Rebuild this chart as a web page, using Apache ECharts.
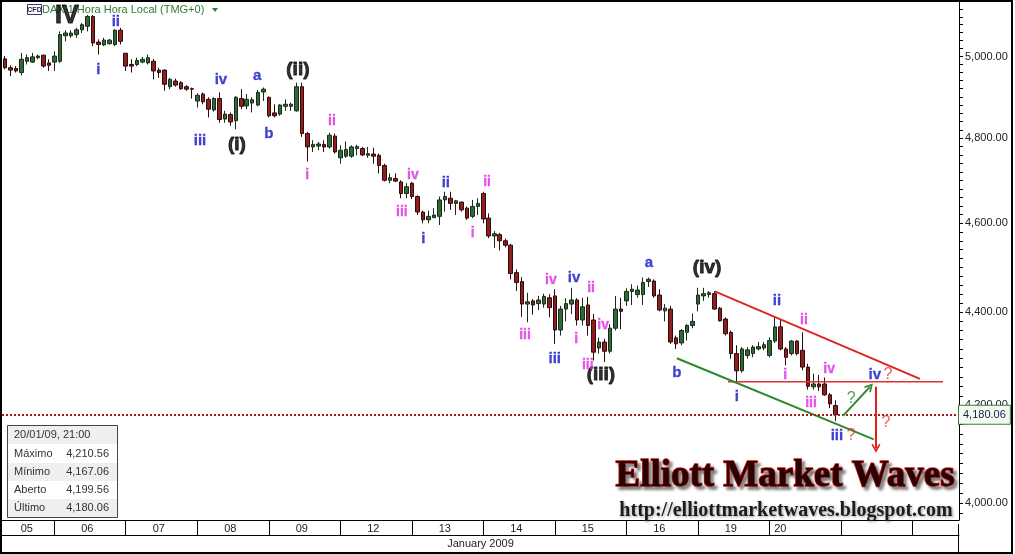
<!DOCTYPE html>
<html>
<head>
<meta charset="utf-8">
<title>DAX 1 Hora</title>
<script src="https://cdn.jsdelivr.net/npm/echarts@6/dist/echarts.min.js"></script>
<style>
html,body{margin:0;padding:0;background:#fff;}
#chart{width:1015px;height:554px;}
</style>
</head>
<body>
<div id="chart"></div>
<script>
// barras horárias 09:00-21:00, o dia 05 aparece só a partir das 13:00
const dayNames = ['05','06','07','08','09','12','13','14','15','16','19','20','21','22'];
const hours = ['09','10','11','12','13','14','15','16','17','18','19','20','21'];

const candleOpen = [
  4994,4972,4970,4960,4988,4986,4997,5003,4984,4986,
  4988,5052,5052,5055,5067,5076,5101,5036,5029,5032,
  5030,5066,5008,4980,4980,4986,4984,4988,4966,4966,
  4925,4939,4935,4925,4920,4890,4907,4894,4868,4896,
  4846,4857,4842,4896,4878,4885,4880,4912,4899,4861,
  4858,4877,4877,4866,4925,4811,4779,4781,4785,4779,
  4805,4753,4757,4757,4775,4775,4759,4762,4759,4735,
  4700,4704,4696,4669,4693,4662,4626,4608,4613,4616,
  4654,4658,4646,4649,4635,4616,4639,4669,4612,4571,
  4574,4560,4550,4488,4468,4418,4425,4419,4418,4432,
  4436,4361,4407,4418,4427,4383,4416,4383,4322,4335,
  4315,4365,4407,4425,4446,4439,4439,4468,4469,4438,
  4403,4407,4344,4333,4356,4371,4418,4436,4439,4441,
  4409,4385,4356,4310,4273,4306,4310,4320,4322,4306,
  4337,4368,4320,4310,4337,4317,4281,4239,4245,4245,
  4222,4199.56
];
const candleHigh = [
  5001,4978,4976,5009,5005,5009,5005,5005,4993,5013,
  5063,5066,5066,5072,5084,5105,5105,5043,5047,5044,
  5069,5072,5009,4993,4997,4999,5005,4994,4972,4968,
  4947,4945,4939,4929,4923,4909,4911,4899,4899,4911,
  4866,4862,4902,4919,4907,4899,4917,4923,4901,4882,
  4882,4894,4886,4935,4935,4815,4795,4791,4795,4813,
  4811,4783,4792,4783,4784,4779,4779,4777,4763,4739,
  4716,4716,4700,4693,4696,4665,4629,4629,4635,4662,
  4673,4673,4654,4650,4639,4654,4658,4673,4623,4582,
  4578,4565,4553,4495,4478,4443,4429,4436,4441,4440,
  4451,4414,4431,4454,4431,4432,4434,4396,4345,4342,
  4374,4436,4432,4453,4462,4459,4477,4477,4473,4451,
  4418,4414,4349,4363,4374,4397,4454,4454,4447,4447,
  4412,4389,4360,4328,4324,4324,4328,4335,4335,4345,
  4389,4385,4324,4339,4339,4356,4288,4267,4264,4259,
  4226,4210.56
];
const candleLow = [
  4968,4951,4960,4953,4980,4984,4993,4972,4964,4964,
  4984,5038,5047,5047,5059,5063,5026,5005,5026,5030,
  5026,5030,4964,4960,4976,4983,4980,4943,4947,4915,
  4919,4925,4917,4915,4896,4874,4882,4850,4864,4837,
  4837,4830,4821,4870,4870,4862,4877,4890,4850,4850,
  4854,4866,4866,4864,4803,4744,4767,4771,4767,4775,
  4763,4739,4753,4753,4759,4757,4753,4739,4716,4697,
  4693,4696,4658,4658,4656,4619,4600,4600,4612,4596,
  4627,4631,4619,4627,4608,4612,4619,4600,4566,4544,
  4538,4545,4473,4447,4390,4378,4395,4405,4410,4389,
  4331,4349,4380,4396,4371,4371,4349,4295,4310,4292,
  4310,4360,4363,4414,4416,4432,4416,4456,4432,4402,
  4380,4331,4320,4328,4338,4365,4402,4425,4432,4405,
  4380,4349,4299,4250,4269,4299,4302,4317,4317,4302,
  4333,4317,4285,4306,4306,4274,4233,4233,4230,4220,
  4194,4167.06
];
const candleClose = [
  4972,4966,4964,4993,4997,4999,5001,4976,4978,5001,
  5055,5059,5059,5067,5080,5101,5034,5030,5041,5041,
  5066,5038,4976,4976,4990,4993,4997,4964,4960,4931,
  4943,4929,4920,4919,4919,4904,4888,4870,4896,4845,
  4858,4839,4899,4877,4894,4893,4911,4919,4854,4854,
  4880,4882,4882,4925,4811,4779,4785,4786,4779,4807,
  4767,4771,4773,4779,4780,4760,4763,4757,4735,4700,
  4706,4698,4669,4685,4662,4626,4608,4616,4619,4654,
  4662,4646,4652,4631,4612,4639,4646,4610,4571,4576,
  4560,4550,4486,4466,4418,4423,4416,4427,4435,4410,
  4361,4407,4419,4427,4383,4412,4371,4313,4335,4315,
  4365,4407,4402,4446,4451,4449,4466,4473,4436,4405,
  4409,4335,4331,4360,4371,4380,4438,4441,4443,4407,
  4381,4353,4310,4273,4320,4318,4324,4325,4329,4338,
  4368,4320,4302,4337,4310,4281,4240,4245,4239,4222,
  4203,4180.06
];

// eixo de preços
const priceLabels = [4000,4200,4400,4600,4800,5000];
const priceTicks = [];
for (let v = 3980; v <= 5120; v += 20) priceTicks.push(v);

// contagem de ondas: [texto, posição (barra), preço]
const blackWaves = [['IV',11.3,5103],['(i)',42.2,4784],['(ii)',53.3,4968],['(iii)',108.4,4264],['(iv)',127.7,4499]];
const blueWaves = [
  ['i',17.0,4966],['ii',20.2,5088],['iii',35.5,4794],['iv',39.3,4941],['a',45.9,4951],['b',48.0,4811],
  ['i',76.1,4564],['ii',80.2,4695],['iii',100.0,4298],['iv',103.5,4477],['a',117.1,4510],['b',122.2,4268],
  ['i',133.1,4218],['ii',140.4,4424],['iii',151.3,4137],['iv',158.2,4264]
];
const pinkWaves = [
  ['i',55.0,4711],['ii',59.5,4841],['iii',72.2,4626],['iv',74.2,4711],['i',85.1,4578],['ii',87.7,4695],
  ['iii',94.6,4350],['iv',99.3,4472],['i',103.9,4341],['ii',106.6,4454],['iii',106.0,4285],['iv',108.8,4371],
  ['i',141.9,4264],['ii',145.3,4382],['iii',146.6,4205],['iv',149.9,4277]
];
const redMarks = [['?',160.6,4264],['?',153.9,4137],['?',160.2,4164]];
const greenMarks = [['?',153.9,4214]];

// linhas de tendência e setas
const upperLine = [[129.1,4446],[166.4,4256]];
const lowerLine = [[122.2,4300],[158.0,4129]];
const levelLine = [[131.5,4249.5],[170.6,4249.5]];
const upArrow = [[152.4,4178],[157.3,4239]];
const downArrow = [[158.4,4239],[158.4,4111]];

const lastIdx = candleClose.length - 1;
const infoTitle = '20/01/09, 21:00';
const infoRows = [
  ['Máximo', candleHigh[lastIdx]],
  ['Mínimo', candleLow[lastIdx]],
  ['Aberto', candleOpen[lastIdx]],
  ['Último', candleClose[lastIdx]]
];

function fmt(v) {
  return Number(v).toFixed(2).replace(/\B(?=(\d{3})+(?!\d))/g, ',');
}

// categorias (uma por barra horária)
const slots = [];
dayNames.forEach((d, k) => {
  hours.forEach((h, j) => {
    if (k === 0 && j < 4) return;
    slots.push(d + ' ' + h + ':00');
  });
});
slots.length = 174;

const tickIdx = new Set();
const labelIdx = new Set();
const labelHour = {'05': '17', '20': '11'};
slots.forEach((s, i) => {
  const d = s.slice(0, 2), h = s.slice(3, 5);
  if (h === '09' && i > 0) tickIdx.add(i);
  if (i < candleClose.length && h === (labelHour[d] || '15')) labelIdx.add(i);
});

const ohlc = candleOpen.map((o, i) => [o, candleClose[i], candleLow[i], candleHigh[i]]);

const chevron = 'path://M5,0L10,8L8.6,9.2L5,3.4L1.4,9.2L0,8Z';

function waveSeries(list, color, size, weight, border) {
  return {
    type: 'scatter', xAxisIndex: 1, yAxisIndex: 0, silent: true, z: 6,
    symbolSize: 1, itemStyle: {color: 'transparent'},
    data: list.map(d => ({name: d[0], value: [d[1], d[2]],
      label: d[0] === 'IV' ? {fontSize: 25} : undefined})),
    label: {show: true, position: 'inside', formatter: '{b}', color: color,
      fontSize: size, fontWeight: weight, fontFamily: 'Liberation Sans',
      textBorderColor: color, textBorderWidth: border || 0}
  };
}

function lineSeries(pts, color, width, extra) {
  return Object.assign({
    type: 'line', xAxisIndex: 1, yAxisIndex: 0, data: pts, silent: true, z: 4,
    showSymbol: false, symbol: 'none', lineStyle: {color: color, width: width}
  }, extra || {});
}

const infoEls = [];
infoEls.push({type: 'rect', shape: {x: 7.5, y: 425.5, width: 110, height: 92}, style: {fill: '#fff', stroke: '#444', lineWidth: 1}});
infoEls.push({type: 'rect', shape: {x: 8, y: 426, width: 109, height: 18}, style: {fill: '#efefef'}});
infoEls.push({type: 'text', x: 14, y: 435, style: {text: infoTitle, font: '11px "Liberation Sans"', fill: '#333', verticalAlign: 'middle'}});
infoRows.forEach((r, k) => {
  const top = 445 + 18 * k;
  if (k % 2 === 1) infoEls.push({type: 'rect', shape: {x: 8, y: top, width: 109, height: 18}, style: {fill: '#efefef'}});
  infoEls.push({type: 'text', x: 14, y: top + 9, style: {text: r[0], font: '11px "Liberation Sans"', fill: '#333', verticalAlign: 'middle'}});
  infoEls.push({type: 'text', x: 109, y: top + 9, style: {text: fmt(r[1]), font: '11px "Liberation Sans"', fill: '#333', align: 'right', verticalAlign: 'middle'}});
});

const option = {
  animation: false,
  backgroundColor: '#fff',
  textStyle: {fontFamily: 'Liberation Sans'},
  grid: {left: 2, right: 56, top: 2, bottom: 30, containLabel: false},
  xAxis: [
    {
      type: 'category', data: slots, boundaryGap: true,
      axisLine: {onZero: false, lineStyle: {color: '#000', width: 1}},
      axisTick: {show: true, alignWithLabel: true, length: 15,
        interval: (i) => tickIdx.has(i), lineStyle: {color: '#000'}},
      axisLabel: {interval: (i) => labelIdx.has(i), formatter: v => v.slice(0, 2),
        color: '#222', fontSize: 11, margin: 3},
      splitLine: {show: false}
    },
    {type: 'value', min: -0.5, max: 173.5, show: false},
    {
      type: 'value', min: 0, max: 1, position: 'bottom', offset: 15,
      axisLine: {show: true, onZero: false, lineStyle: {color: '#000', width: 1}},
      axisTick: {show: false}, axisLabel: {show: false}, splitLine: {show: false},
      name: 'January 2009', nameLocation: 'middle', nameGap: 3,
      nameTextStyle: {color: '#222', fontSize: 11}
    }
  ],
  yAxis: {
    type: 'log', position: 'right', min: 3966, max: 5138,
    axisLine: {show: true, onZero: false, lineStyle: {color: '#000'}},
    axisTick: {show: true, length: 4, customValues: priceTicks, lineStyle: {color: '#000'}},
    axisLabel: {customValues: priceLabels, formatter: v => fmt(v), margin: 6, color: '#222', fontSize: 11},
    splitLine: {show: false}
  },
  series: [
    {
      type: 'candlestick', xAxisIndex: 0, yAxisIndex: 0, data: ohlc, barWidth: 4,
      itemStyle: {color: '#2e6a36', color0: '#8f1f1f', borderColor: '#1b2a1b', borderColor0: '#2e0a0a', borderWidth: 1},
      markLine: {
        silent: true, symbol: ['none', 'none'],
        data: [{yAxis: candleClose[lastIdx]}],
        lineStyle: {color: '#a81818', type: [2, 2], width: 2},
        label: {show: true, position: 'end', distance: 0, formatter: fmt(candleClose[lastIdx]),
          backgroundColor: '#f3fbef', borderColor: '#3b7a3b', borderWidth: 1,
          padding: [4, 4, 3, 4], color: '#1c1c5c', fontSize: 11}
      }
    },
    lineSeries(upperLine, '#e02424', 2),
    lineSeries(levelLine, '#e03030', 1.5),
    lineSeries(lowerLine, '#2b8a2b', 2, {
      markLine: {
        silent: true, symbol: ['none', chevron], symbolSize: 9, label: {show: false},
        data: [
          [{coord: upArrow[0], lineStyle: {color: '#2b8a2b', width: 2, type: 'solid'}},
           {coord: upArrow[1], lineStyle: {color: '#2b8a2b', width: 2, type: 'solid'}}],
          [{coord: downArrow[0], lineStyle: {color: '#e02020', width: 2, type: 'solid'}},
           {coord: downArrow[1], lineStyle: {color: '#e02020', width: 2, type: 'solid'}}]
        ]
      }
    }),
    waveSeries(blackWaves, '#000', 19, 'bold', 0.9),
    waveSeries(blueWaves, '#1414c8', 15, 'bold', 0.3),
    waveSeries(pinkWaves, '#e02ee0', 14, 'bold', 0.3),
    waveSeries(redMarks, '#e23535', 16, 'normal'),
    waveSeries(greenMarks, '#2b8a2b', 16, 'normal')
  ],
  graphic: [
    {type: 'rect', shape: {x: 1, y: 1, width: 1011, height: 552}, style: {fill: 'none', stroke: '#000', lineWidth: 2}, z: 100, silent: true},
    {type: 'line', shape: {x1: 958.5, y1: 524, x2: 958.5, y2: 553}, style: {stroke: '#000', lineWidth: 1}, z: 100},
    {type: 'rect', shape: {x: 27.5, y: 4.5, width: 14, height: 10}, style: {fill: '#fff', stroke: '#333366', lineWidth: 1}},
    {type: 'text', x: 34.5, y: 10, style: {text: 'CFD', font: 'bold 7px "Liberation Sans"', fill: '#222255', align: 'center', verticalAlign: 'middle'}},
    {type: 'text', x: 42, y: 10, style: {text: 'DAX 1 Hora Hora Local (TMG+0)', font: '11px "Liberation Sans"', fill: '#2e7d32', verticalAlign: 'middle'}},
    {type: 'polygon', shape: {points: [[212, 8], [218, 8], [215, 12]]}, style: {fill: '#2e7d32'}},
    {type: 'group', children: infoEls},
    {type: 'text', x: 785, y: 476, z: 50, style: {
      text: 'Elliott Market Waves', font: 'bold 37px "Liberation Serif"', fill: '#2a0202',
      stroke: '#c81818', lineWidth: 1.5, align: 'center', verticalAlign: 'middle',
      textShadowColor: 'rgba(0,0,0,0.45)', textShadowBlur: 3, textShadowOffsetX: 3, textShadowOffsetY: 3}},
    {type: 'text', x: 786, y: 511, z: 50, style: {
      text: 'http://elliottmarketwaves.blogspot.com', font: 'bold 20px "Liberation Serif"', fill: '#1c1c1c',
      align: 'center', verticalAlign: 'middle',
      textShadowColor: 'rgba(0,0,0,0.4)', textShadowBlur: 3, textShadowOffsetX: 1, textShadowOffsetY: 1}}
  ]
};

const chart = echarts.init(document.getElementById('chart'));
chart.setOption(option);
window.addEventListener('resize', function () { chart.resize(); });
</script>
</body>
</html>
